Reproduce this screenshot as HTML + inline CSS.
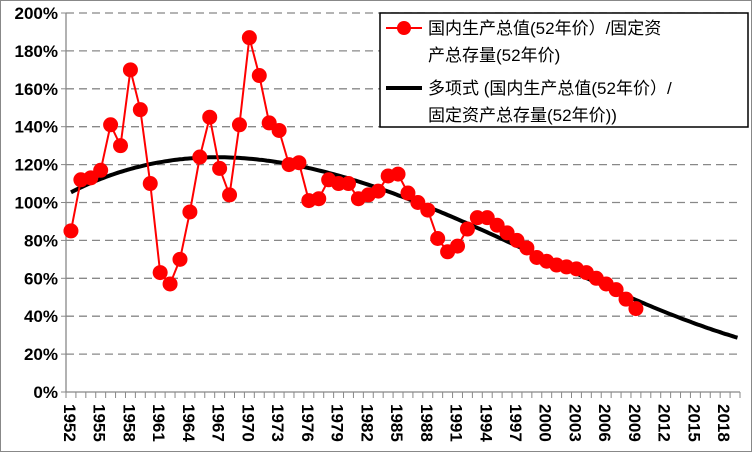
<!DOCTYPE html>
<html><head><meta charset="utf-8"><style>
body{margin:0;background:#fff}
svg{display:block;font-family:"Liberation Sans","Noto Sans CJK SC",sans-serif}
</style></head><body>
<svg id="c" width="752" height="452">
<rect x="0.5" y="0.5" width="751" height="451" fill="#fff" stroke="#888"/>
<g id="grid"></g><g id="axes"></g><g id="series"></g>
<g>
<rect x="380" y="13" width="368" height="114" fill="#fff" stroke="#000" stroke-width="1.5"/>
<line x1="386" y1="28" x2="422" y2="28" stroke="#f00" stroke-width="2"/>
<circle cx="404" cy="28" r="7" fill="#f00"/>
<text x="428" y="34" font-size="17">国内生产总值(52年价）/固定资</text>
<text x="428" y="61" font-size="17">产总存量(52年价)</text>
<line x1="386" y1="88" x2="422" y2="88" stroke="#000" stroke-width="4"/>
<text x="428" y="94" font-size="17">多项式 (国内生产总值(52年价）/</text>
<text x="428" y="121" font-size="17">固定资产总存量(52年价))</text>
</g>
</svg>
<script>
const years=[];for(let y=1952;y<=2019;y++)years.push(y);
const dataYears=[1952,1953,1954,1955,1956,1957,1958,1959,1960,1961,1962,1963,1964,1965,1966,1967,1968,1969,1970,1971,1972,1973,1974,1975,1976,1977,1978,1979,1980,1981,1982,1983,1984,1985,1986,1987,1988,1989,1990,1991,1992,1993,1994,1995,1996,1997,1998,1999,2000,2001,2002,2003,2004,2005,2006,2007,2008,2009];
const values=[85,112,113,117,141,130,170,149,110,63,57,70,95,124,145,118,104,141,187,167,142,138,120,121,101,102,112,110,110,102,104,106,114,115,105,100,96,81,74,77,86,92,92,88,84,80,76,71,69,67,66,65,63,60,57,54,49,44];
const yTicks=[0,20,40,60,80,100,120,140,160,180,200];
const xLabelYears=[1952,1955,1958,1961,1964,1967,1970,1973,1976,1979,1982,1985,1988,1991,1994,1997,2000,2003,2006,2009,2012,2015,2018];
const NS="http://www.w3.org/2000/svg";
const X0=66,X1=740,Y0=392,Y1=13;
const step=(X1-X0)/years.length;
const xs=y=>X0+(y-1952+0.5)*step;
const ys=v=>Y0-(v/200)*(Y0-Y1);
function mk(t,a,p){const e=document.createElementNS(NS,t);for(const k in a)e.setAttribute(k,a[k]);p.appendChild(e);return e;}
const grid=document.getElementById('grid'),axes=document.getElementById('axes'),ser=document.getElementById('series');
yTicks.forEach(v=>{
 if(v>0){const l=mk('line',{x1:X0,x2:X1,y1:ys(v),y2:ys(v),stroke:'#888','stroke-dasharray':'8,5','stroke-width':1.3},grid);
 
 }
 const tk=mk('line',{x1:X0-5,x2:X0,y1:ys(v),y2:ys(v),stroke:'#888'},axes);
 
 
 const t=mk('text',{x:X0-8,y:ys(v)+6,'text-anchor':'end','font-size':17,'font-weight':'bold'},axes);
 t.textContent=v+'%';
 
 
});
const ya=mk('line',{x1:X0,x2:X0,y1:Y1,y2:Y0,stroke:'#888','stroke-width':1.3},axes);


const xa=mk('line',{x1:X0,x2:X1,y1:Y0,y2:Y0,stroke:'#888','stroke-width':1.3},axes);


for(let i=0;i<=years.length;i++){const tk=mk('line',{x1:X0+i*step,x2:X0+i*step,y1:Y0,y2:Y0+6,stroke:'#888'},axes);
 
 }
xLabelYears.forEach(y=>{const x=xs(y)-7,yy=Y0+12;const t=mk('text',{x:x,y:yy,'font-size':17,'font-weight':'bold',transform:`rotate(90 ${x} ${yy})`},axes);
 t.textContent=y;
 
 });
// cubic least squares trend
const n=4,A=[],B=[];for(let i=0;i<n;i++){A.push(new Array(n).fill(0));B.push(0);}
const tx=y=>(y-1980)/30;
dataYears.forEach((y,k)=>{const t=tx(y);for(let i=0;i<n;i++){B[i]+=values[k]*t**i;for(let j=0;j<n;j++)A[i][j]+=t**(i+j);}});
for(let i=0;i<n;i++){for(let r=i+1;r<n;r++){const f=A[r][i]/A[i][i];for(let c=i;c<n;c++)A[r][c]-=f*A[i][c];B[r]-=f*B[i];}}
const co=new Array(n).fill(0);for(let i=n-1;i>=0;i--){let s=B[i];for(let c=i+1;c<n;c++)s-=A[i][c]*co[c];co[i]=s/A[i][i];}
const poly=y=>co.reduce((s,c,i)=>s+c*tx(y)**i,0);
let d='';for(let y=1952;y<=2019.45;y+=0.25){d+=(d?'L':'M')+xs(y).toFixed(1)+','+ys(poly(y)).toFixed(1);}
const tr=mk('path',{d:d,fill:'none',stroke:'#000','stroke-width':4},ser);


const ln=mk('polyline',{points:dataYears.map((y,k)=>xs(y)+','+ys(values[k])).join(' '),fill:'none',stroke:'#f00','stroke-width':2},ser);


dataYears.forEach((y,k)=>{const c=mk('circle',{cx:xs(y),cy:ys(values[k]),r:7.5,fill:'#f00'},ser);
 
 });
</script>
</body></html>
